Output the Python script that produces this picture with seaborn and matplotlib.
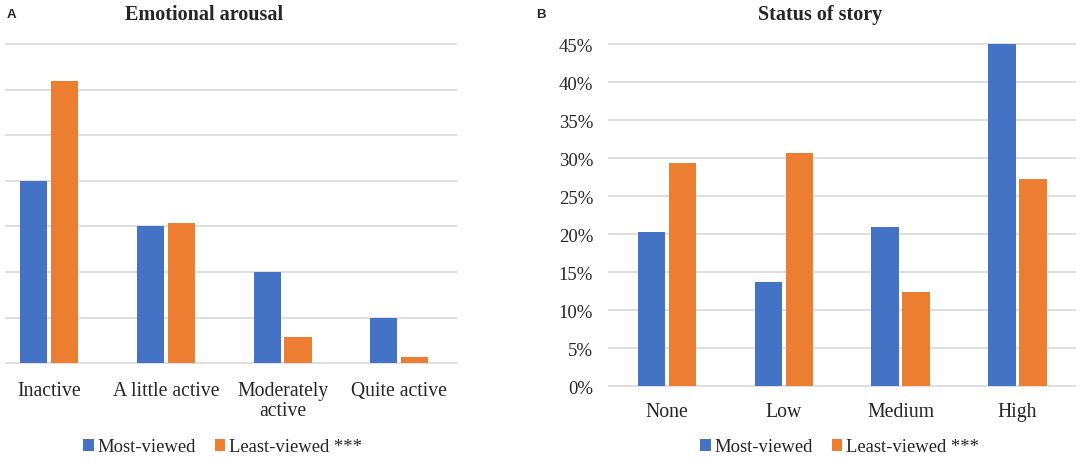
import pandas as pd
import matplotlib.pyplot as plt
import seaborn as sns

# data
arousal_levels = ['Inactive', 'A little active', 'Moderately\nactive', 'Quite active']
arousal_most = [40.0, 30.0, 20.0, 9.9]
arousal_least = [62.0, 30.7, 5.7, 1.3]

status_levels = ['None', 'Low', 'Medium', 'High']
status_most = [20.3, 13.7, 21.0, 45.0]
status_least = [29.4, 30.7, 12.4, 27.3]

groups = ['Most-viewed', 'Least-viewed ***']
colors = ['#4472C4', '#ED7D31']


def long_df(levels, most, least):
    return pd.DataFrame({
        'level': levels * 2,
        'value': most + least,
        'group': [groups[0]] * len(levels) + [groups[1]] * len(levels),
    })


df_a = long_df(arousal_levels, arousal_most, arousal_least)
df_b = long_df(status_levels, status_most, status_least)

sns.set_theme(style='white')
plt.rcParams['font.family'] = 'serif'
plt.rcParams['font.serif'] = ['Liberation Serif', 'DejaVu Serif']

W, H = 1084, 464
fig = plt.figure(figsize=(W / 100, H / 100), dpi=100)

# pixel -> figure coords
axA = fig.add_axes([5 / W, 1 - 366.6 / H, 452.5 / W, (366.6 - 40.5) / H])
axB = fig.add_axes([608.3 / W, 1 - 389.6 / H, 467.7 / W, (389.6 - 40.7) / H])

for ax, df, levels in [(axA, df_a, arousal_levels), (axB, df_b, status_levels)]:
    sns.barplot(data=df, x='level', y='value', hue='group', order=levels,
                hue_order=groups, palette=colors, saturation=1,
                width=0.53, gap=0.12, linewidth=0, ax=ax)
    ax.get_legend().remove()
    ax.set_xlabel('')
    ax.set_ylabel('')
    sns.despine(ax=ax, left=True, bottom=True)
    ax.yaxis.grid(True, color='#D9D9D9', linewidth=1.2)
    ax.set_axisbelow(True)
    ax.tick_params(length=0, labelsize=14.2)
    for t in ax.get_xticklabels():
        t.set_linespacing(1.05)

axA.set_xlim(-0.38, 3.5)
axA.set_ylim(-0.5, 71)
axA.set_yticks(range(0, 71, 10))
axA.set_yticklabels([])
axA.tick_params(axis='x', pad=11)

axB.set_xlim(-0.5, 3.5)
axB.set_ylim(-0.3, 45.6)
axB.set_yticks(range(0, 46, 5))
axB.set_yticklabels([f'{v}%' for v in range(0, 46, 5)])
axB.tick_params(axis='x', pad=9.5)
axB.tick_params(axis='y', pad=11, labelsize=13.5)

fig.text(204 / W, 1 - 15 / H, 'Emotional arousal', ha='center', va='center',
         fontsize=14.5, fontweight='bold')
fig.text(820 / W, 1 - 15 / H, 'Status of story', ha='center', va='center',
         fontsize=14.5, fontweight='bold')
fig.text(7 / W, 1 - 14.5 / H, 'A', ha='left', va='center', fontsize=9.5,
         fontweight='bold', family='Liberation Sans')
fig.text(536 / W, 1 - 14.5 / H, 'B', ha='left', va='center', fontsize=9.5,
         fontweight='bold', family='Liberation Sans')

for ax, cx in [(axA, 222.5), (axB, 839.5)]:
    handles, labels = ax.get_legend_handles_labels()
    ax.legend(handles, labels, loc='center', bbox_to_anchor=(cx / W, 1 - 448 / H),
              bbox_transform=fig.transFigure, ncol=2, frameon=False,
              fontsize=13.4, handlelength=0.55, handleheight=0.55,
              handletextpad=0.18, columnspacing=1.05)

plt.savefig('out.png', dpi=100)
